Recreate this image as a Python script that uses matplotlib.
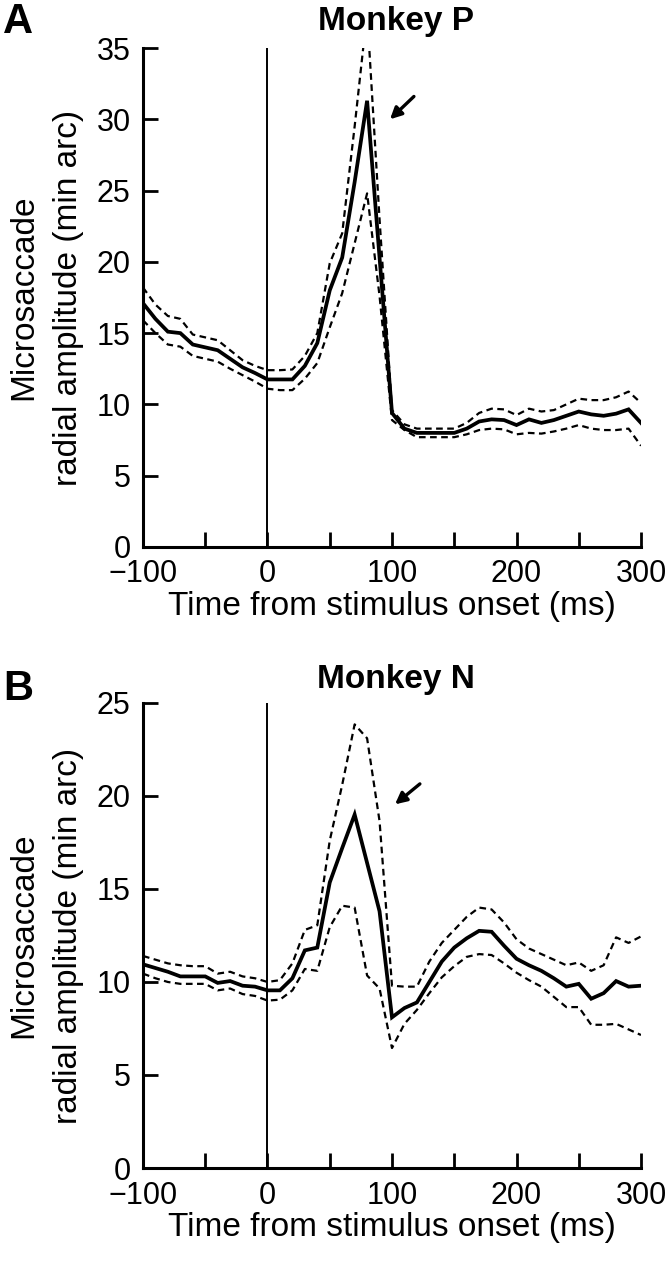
import matplotlib
matplotlib.use("Agg")
import matplotlib.pyplot as plt
import numpy as np

plt.rcParams['font.family'] = ['Liberation Sans', 'DejaVu Sans']

time_ms = list(range(-100, 301, 10))

p_mean = [17.1, 16.0, 15.1, 15.0, 14.2, 14.0, 13.8, 13.2, 12.6, 12.2,
          11.75, 11.75, 11.75, 12.7, 14.3, 18.0, 20.3, 25.6, 31.3, 20.3,
          9.4, 8.3, 8.0, 8.0, 8.0, 8.0, 8.3, 8.8, 8.95, 8.9,
          8.55, 8.95, 8.7, 8.9, 9.2, 9.5, 9.3, 9.2, 9.35, 9.65, 8.7]
p_upper = [18.2, 17.0, 16.2, 16.0, 14.9, 14.7, 14.5, 13.8, 13.1, 12.7,
           12.4, 12.4, 12.45, 13.4, 15.0, 19.9, 22.0, 29.5, 37.5, 23.0,
           9.6, 8.6, 8.3, 8.3, 8.3, 8.3, 8.7, 9.4, 9.7, 9.65,
           9.25, 9.7, 9.5, 9.6, 10.0, 10.4, 10.3, 10.3, 10.5, 10.9, 10.1]
p_lower = [15.9, 15.0, 14.2, 14.05, 13.4, 13.2, 13.0, 12.5, 12.05, 11.6,
           11.1, 11.0, 11.0, 11.8, 12.9, 15.4, 17.8, 21.3, 24.8, 17.6,
           8.9, 8.2, 7.7, 7.7, 7.7, 7.7, 7.9, 8.2, 8.3, 8.25,
           7.9, 8.0, 7.95, 8.1, 8.3, 8.55, 8.3, 8.2, 8.2, 8.3, 7.1]

n_mean = [10.95, 10.75, 10.55, 10.3, 10.3, 10.3, 9.95, 10.05, 9.8, 9.75,
          9.55, 9.55, 10.2, 11.7, 11.85, 15.35, 17.2, 19.0, 16.4, 13.8,
          8.1, 8.6, 8.9, 10.0, 11.1, 11.85, 12.35, 12.75, 12.7, 11.95,
          11.25, 10.9, 10.6, 10.2, 9.75, 9.9, 9.1, 9.4, 10.05, 9.75, 9.8]
n_upper = [11.4, 11.2, 11.0, 10.9, 10.85, 10.85, 10.45, 10.55, 10.3, 10.2,
           10.0, 10.1, 11.0, 12.8, 13.05, 17.6, 20.6, 23.85, 23.1, 18.65,
           9.8, 9.75, 9.75, 11.1, 12.1, 12.8, 13.5, 14.0, 13.9, 13.2,
           12.3, 11.8, 11.5, 11.2, 10.9, 11.05, 10.6, 10.9, 12.4, 12.1, 12.45]
n_lower = [10.45, 10.2, 10.0, 9.9, 9.9, 9.9, 9.55, 9.65, 9.35, 9.25,
           9.0, 9.05, 9.55, 10.7, 10.6, 12.95, 14.1, 14.0, 10.35, 9.65,
           6.45, 7.75, 8.5, 9.4, 10.25, 10.85, 11.35, 11.5, 11.45, 11.0,
           10.5, 10.1, 9.75, 9.2, 8.65, 8.65, 7.7, 7.7, 7.75, 7.45, 7.15]

x_ticks = list(range(-100, 301, 50))
x_ticklabels = ['\u2212100', '', '0', '', '100', '', '200', '', '300']

panels = [
    dict(letter='A', title='Monkey P', mean=p_mean, upper=p_upper, lower=p_lower,
         ymax=35, rect=[0.2131, 0.5727, 0.7422, 0.3898],
         arrow_tail=(117.6, 31.6), arrow_head=(98.4, 30.0),
         letter_y=0.983, title_y=0.983),
    dict(letter='B', title='Monkey N', mean=n_mean, upper=n_upper, lower=n_lower,
         ymax=25, rect=[0.2131, 0.0875, 0.7422, 0.3633],
         arrow_tail=(122.4, 20.65), arrow_head=(102.4, 19.55),
         letter_y=0.462, title_y=0.469),
]

fig = plt.figure(figsize=(6.71, 12.8), dpi=100)

for p in panels:
    ax = fig.add_axes(p['rect'])
    ax.plot(time_ms, p['mean'], color='black', lw=2.7, solid_joinstyle='miter')
    ax.plot(time_ms, p['upper'], color='black', lw=1.6, dashes=(3, 2))
    ax.plot(time_ms, p['lower'], color='black', lw=1.6, dashes=(3, 2))
    ax.axvline(0, color='black', lw=1.4)
    ax.set_xlim(-100, 300)
    ax.set_ylim(0, p['ymax'])
    ax.set_xticks(x_ticks)
    ax.set_xticklabels(x_ticklabels)
    ax.set_yticks(list(range(0, p['ymax'] + 1, 5)))
    for s in ['top', 'right']:
        ax.spines[s].set_visible(False)
    for s in ['left', 'bottom']:
        ax.spines[s].set_linewidth(2.2)
    ax.tick_params(direction='in', length=11, width=2.0, labelsize=22)
    ax.tick_params(axis='y', pad=9)
    ax.tick_params(axis='x', pad=9)
    ax.set_xlabel('Time from stimulus onset (ms)', fontsize=24, labelpad=1)
    ax.annotate('', xy=p['arrow_head'], xytext=p['arrow_tail'],
                arrowprops=dict(arrowstyle='-|>', lw=2.4, color='black',
                                mutation_scale=17, shrinkA=0, shrinkB=0))
    fig.text(0.005, p['letter_y'], p['letter'], fontsize=30, fontweight='bold',
             ha='left', va='center')
    fig.text(0.59, p['title_y'], p['title'], fontsize=24, fontweight='bold',
             ha='center', va='center')
    ylab_y = p['rect'][1] + p['rect'][3] / 2
    fig.text(0.069, ylab_y, 'Microsaccade\nradial amplitude (min arc)',
             fontsize=24, rotation=90, ha='center', va='center',
             multialignment='center', linespacing=1.55)

fig.savefig('out.png', dpi=100)
